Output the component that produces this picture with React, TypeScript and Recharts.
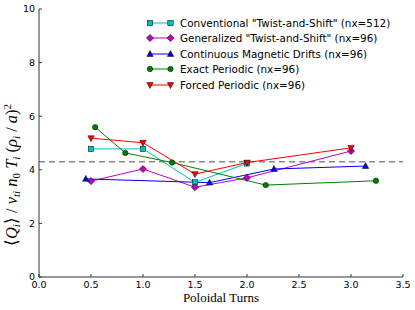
import React from "react"
import { LineChart, Line, XAxis, YAxis, ReferenceLine } from "recharts"

const xTicks = [0, 0.5, 1, 1.5, 2, 2.5, 3, 3.5]
const yTicks = [0, 2, 4, 6, 8, 10]

const turnsConventional = [0.5, 1.0, 1.5, 2.0]
const fluxConventional = [4.78, 4.78, 3.53, 4.24]
const turnsGeneralized = [0.5, 1.0, 1.5, 2.0, 3.0]
const fluxGeneralized = [3.58, 4.03, 3.35, 3.7, 4.7]
const turnsContinuous = [0.45, 1.64, 2.26, 3.14]
const fluxContinuous = [3.66, 3.52, 4.03, 4.14]
const turnsExact = [0.54, 0.83, 1.28, 2.18, 3.24]
const fluxExact = [5.59, 4.63, 4.27, 3.43, 3.59]
const turnsForced = [0.5, 1.0, 1.5, 2.0, 3.0]
const fluxForced = [5.18, 5.01, 3.84, 4.27, 4.82]
const referenceFlux = 4.3

type Shape = "square" | "diamond" | "triUp" | "circle" | "triDown"

const zip = (xs: number[], ys: number[]) => xs.map((x, i) => ({ x, y: ys[i] }))

const series: { name: string; color: string; shape: Shape; data: { x: number; y: number }[] }[] = [
  { name: 'Conventional "Twist-and-Shift" (nx=512)', color: "#00BFBF", shape: "square", data: zip(turnsConventional, fluxConventional) },
  { name: 'Generalized "Twist-and-Shift" (nx=96)', color: "#BF00BF", shape: "diamond", data: zip(turnsGeneralized, fluxGeneralized) },
  { name: "Continuous Magnetic Drifts (nx=96)", color: "#0000FF", shape: "triUp", data: zip(turnsContinuous, fluxContinuous) },
  { name: "Exact Periodic (nx=96)", color: "#008000", shape: "circle", data: zip(turnsExact, fluxExact) },
  { name: "Forced Periodic (nx=96)", color: "#FF0000", shape: "triDown", data: zip(turnsForced, fluxForced) },
]

function Marker({ shape, cx, cy, color }: { shape: Shape; cx: number; cy: number; color: string }) {
  const common = { fill: color, stroke: "#000", strokeWidth: 0.5 }
  if (shape === "square") return <rect x={cx - 2.7} y={cy - 2.7} width={5.4} height={5.4} {...common} />
  if (shape === "diamond")
    return <polygon points={`${cx},${cy - 3.6} ${cx + 3.6},${cy} ${cx},${cy + 3.6} ${cx - 3.6},${cy}`} {...common} />
  if (shape === "triUp")
    return <polygon points={`${cx},${cy - 3.5} ${cx + 3.2},${cy + 2.4} ${cx - 3.2},${cy + 2.4}`} {...common} />
  if (shape === "triDown")
    return <polygon points={`${cx},${cy + 3.5} ${cx + 3.2},${cy - 2.4} ${cx - 3.2},${cy - 2.4}`} {...common} />
  return <circle cx={cx} cy={cy} r={2.7} {...common} />
}

const tickStyle = { fontSize: 9.5, fill: "#000", fontFamily: "DejaVu Sans" }
const axisStroke = { stroke: "#333", strokeWidth: 1 }
const sub = { fontStyle: "italic" as const, fontSize: 11 }

export default function App() {
  return (
    <div style={{ position: "absolute", left: 0, top: 0, width: 415, height: 310, background: "#fff" }}>
      <LineChart width={415} height={310} margin={{ top: 9, right: 12, bottom: 0, left: 9 }}>
        <XAxis
          xAxisId="main"
          type="number"
          dataKey="x"
          domain={[0, 3.5]}
          ticks={xTicks}
          tickFormatter={(v: number) => v.toFixed(1)}
          height={33}
          tickSize={-3}
          tickMargin={7}
          tick={tickStyle}
          axisLine={axisStroke}
          tickLine={axisStroke}
          allowDuplicatedCategory={false}
        />
        <XAxis
          xAxisId="top"
          orientation="top"
          type="number"
          domain={[0, 3.5]}
          ticks={xTicks}
          height={0}
          tickSize={-3}
          tick={false}
          axisLine={axisStroke}
          tickLine={axisStroke}
        />
        <YAxis
          yAxisId="main"
          type="number"
          domain={[0, 10]}
          ticks={yTicks}
          width={30}
          tickSize={-3}
          tickMargin={7}
          tick={tickStyle}
          axisLine={axisStroke}
          tickLine={axisStroke}
        />
        <YAxis
          yAxisId="right"
          orientation="right"
          type="number"
          domain={[0, 10]}
          ticks={yTicks}
          width={0}
          tickSize={-3}
          tick={false}
          axisLine={axisStroke}
          tickLine={axisStroke}
        />
        <ReferenceLine
          xAxisId="main"
          yAxisId="main"
          y={referenceFlux}
          stroke="#888"
          strokeWidth={1.6}
          strokeDasharray="6 4"
        />
        {series.map((s) => (
          <Line
            key={s.name}
            xAxisId="main"
            yAxisId="main"
            data={s.data}
            dataKey="y"
            name={s.name}
            stroke={s.color}
            strokeWidth={1}
            isAnimationActive={false}
            dot={(p: any) => <Marker key={`${s.shape}-${p.index}`} shape={s.shape} cx={p.cx} cy={p.cy} color={s.color} />}
            activeDot={false}
          />
        ))}
      </LineChart>

      <svg width={415} height={310} style={{ position: "absolute", left: 0, top: 0, pointerEvents: "none" }}>
        <text
          transform="translate(17,175) rotate(-90)"
          textAnchor="middle"
          fontFamily="Liberation Serif"
          fontSize={16.5}
          fill="#000"
        >
          <tspan>⟨</tspan>
          <tspan fontStyle="italic">Q</tspan>
          <tspan {...sub} dy={2.5}>i</tspan>
          <tspan dy={-2.5}>⟩ / </tspan>
          <tspan fontStyle="italic">v</tspan>
          <tspan {...sub} dy={2.5}>ti</tspan>
          <tspan fontStyle="italic" dy={-2.5}> n</tspan>
          <tspan fontSize={11} dy={2.5}>0</tspan>
          <tspan fontStyle="italic" dy={-2.5}> T</tspan>
          <tspan {...sub} dy={2.5}>i</tspan>
          <tspan dy={-2.5}> (</tspan>
          <tspan fontStyle="italic">ρ</tspan>
          <tspan {...sub} dy={2.5}>i</tspan>
          <tspan dy={-2.5}> / </tspan>
          <tspan fontStyle="italic">a</tspan>
          <tspan>)</tspan>
          <tspan fontSize={11} dy={-6.5}>2</tspan>
        </text>
        <text x={221} y={302} textAnchor="middle" fontFamily="Liberation Serif" fontSize={13} fill="#000">
          Poloidal Turns
        </text>
      </svg>

      <div style={{ position: "absolute", left: 145, top: 15, fontFamily: "DejaVu Sans", fontSize: 10.4, color: "#000" }}>
        {series.map((s) => (
          <div key={s.name} style={{ display: "flex", alignItems: "center", height: 15.5 }}>
            <svg width={32} height={10} style={{ flex: "none" }}>
              <line x1={5} y1={5} x2={25.5} y2={5} stroke={s.color} strokeWidth={1} />
              <Marker shape={s.shape} cx={5} cy={5} color={s.color} />
              <Marker shape={s.shape} cx={25.5} cy={5} color={s.color} />
            </svg>
            <span style={{ marginLeft: 3, whiteSpace: "nowrap" }}>{s.name}</span>
          </div>
        ))}
      </div>
    </div>
  )
}
